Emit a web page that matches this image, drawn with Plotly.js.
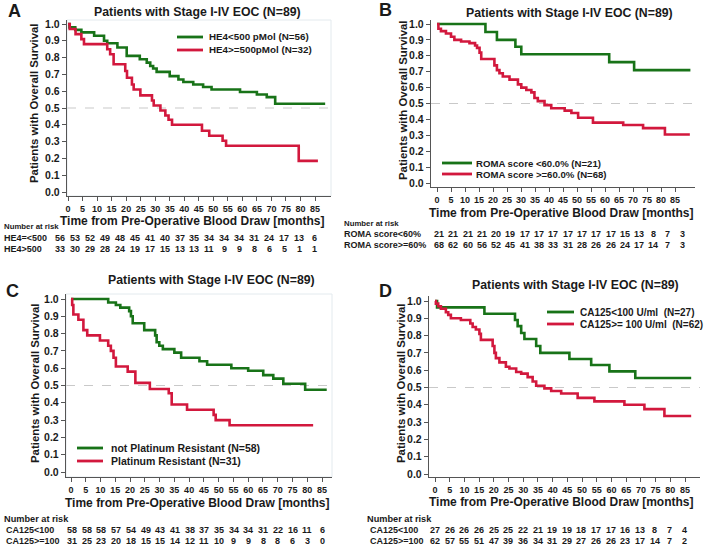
<!DOCTYPE html>
<html><head><meta charset="utf-8">
<script src="https://cdn.plot.ly/plotly-3.0.1.min.js"></script>
<style>html,body{margin:0;padding:0;background:#fff}#chart{width:704px;height:552px}</style>
</head><body><div id="chart"></div>
<script>
// ---------------- DATA ----------------
const monthTicks = [0,5,10,15,20,25,30,35,40,45,50,55,60,65,70,75,80,85];
const yTicks = [0,0.1,0.2,0.3,0.4,0.5,0.6,0.7,0.8,0.9,1.0];

// Panel A: HE4
const aGreenT = [0,0.5,2.5,4.6,9.0,12.4,13.5,17.0,20.2,24.7,27.1,28.3,29.3,30.5,35.0,38.0,39.7,43.1,46.5,49.4,59.2,65.0,68.4,71.3,88.5];
const aGreenS = [1.0,0.98,0.965,0.95,0.93,0.90,0.885,0.86,0.81,0.79,0.77,0.75,0.735,0.715,0.69,0.67,0.655,0.64,0.625,0.61,0.595,0.58,0.565,0.525,0.525];
const aRedT = [0,0.6,2.6,4.6,5.5,13.5,14.5,15.7,19.7,20.3,22.0,22.6,24.9,28.9,29.5,31.8,33.5,34.6,35.8,46.1,48.6,53.2,54.4,79.4,86.0];
const aRedS = [1.0,0.97,0.94,0.91,0.88,0.85,0.82,0.76,0.72,0.68,0.64,0.61,0.575,0.545,0.515,0.485,0.455,0.43,0.40,0.365,0.335,0.305,0.275,0.185,0.185];
const aLegend = ["HE4<500 pMol (N=56)","HE4>=500pMol (N=32)"];
const aRiskLabels = ["HE4=<500","HE4>500"];
const aRisk1 = [56,53,52,49,48,45,41,40,37,35,34,34,34,31,24,17,13,6];
const aRisk2 = [33,30,29,28,24,19,17,15,13,13,11,9,9,8,6,5,1,1];

// Panel B: ROMA
const bGreenT = [0,17.3,21.4,28.0,30.1,61.5,70.4,90.5];
const bGreenS = [1.0,0.95,0.90,0.857,0.81,0.76,0.71,0.71];
const bRedT = [0,0.5,1.4,3.2,5.0,6.2,8.6,11.6,13.6,14.3,15.2,15.8,20.5,21.4,22.3,23.5,25.9,28.9,30.1,31.9,33.7,34.8,36.0,38.4,40.8,45.6,48.0,50.4,55.7,66.5,73.6,81.4,90.3];
const bRedS = [1.0,0.97,0.955,0.94,0.92,0.90,0.89,0.88,0.865,0.85,0.82,0.78,0.74,0.71,0.69,0.67,0.65,0.62,0.60,0.585,0.57,0.535,0.515,0.49,0.47,0.455,0.44,0.41,0.38,0.365,0.345,0.305,0.305];
const bLegend = ["ROMA score <60.0% (N=21)","ROMA score >=60.0% (N=68)"];
const bRiskLabels = ["ROMA score<60%","ROMA score>=60%"];
const bRisk1 = [21,21,21,21,20,19,17,17,17,17,17,17,17,15,13,8,7,3];
const bRisk2 = [68,62,60,56,52,45,41,38,33,31,28,26,26,24,17,14,7,3];

// Panel C: Platinum resistance
const cGreenT = [0,12.6,15.2,16.7,19.7,20.3,20.9,24.8,28.5,29.0,29.9,31.1,35.0,37.3,43.5,46.1,54.3,60.0,65.1,68.5,71.9,79.3,86.6];
const cGreenS = [1.0,0.98,0.965,0.95,0.93,0.90,0.86,0.82,0.79,0.75,0.73,0.71,0.69,0.66,0.64,0.62,0.60,0.585,0.56,0.54,0.51,0.475,0.475];
const cRedT = [0,0.4,0.8,2.5,4.2,5.5,9.8,12.6,13.5,14.4,15.2,19.2,21.8,26.7,33.1,34.1,39.3,48.3,49.0,53.7,82.0];
const cRedS = [1.0,0.965,0.91,0.88,0.82,0.79,0.76,0.73,0.70,0.66,0.61,0.58,0.515,0.48,0.455,0.39,0.36,0.33,0.30,0.27,0.27];
const cLegend = ["not Platinum Resistant (N=58)","Platinum Resistant (N=31)"];
const cRiskLabels = ["CA125<100","CA125>=100"];
const cRisk1 = [58,58,58,57,54,49,43,41,38,37,35,34,34,31,22,16,11,6];
const cRisk2 = [31,25,23,20,18,15,15,14,12,11,10,9,9,8,8,6,3,0];

// Panel D: CA125
const dGreenT = [0,0.7,16.8,27.2,28.1,29.3,30.4,34.4,35.8,45.7,53.1,59.3,68.1,87.1];
const dGreenS = [1.0,0.963,0.926,0.89,0.855,0.815,0.78,0.74,0.70,0.665,0.63,0.593,0.555,0.555];
const dRedT = [0,0.3,1.1,2.0,3.7,4.5,5.4,8.8,12.0,12.8,13.9,15.1,15.6,19.6,20.2,20.7,21.9,24.1,25.3,27.6,29.3,31.5,33.2,34.4,37.2,39.5,42.9,48.5,54.2,64.4,71.2,78.0,87.1];
const dRedS = [1.0,0.985,0.97,0.955,0.935,0.92,0.90,0.89,0.87,0.85,0.835,0.81,0.775,0.74,0.70,0.67,0.645,0.62,0.61,0.59,0.58,0.56,0.535,0.51,0.495,0.48,0.465,0.44,0.42,0.40,0.375,0.335,0.335];
const dLegend = ["CA125<100 U/ml  (N=27)","CA125>= 100 U/ml  (N=62)"];
const dRiskLabels = ["CA125<100","CA125>=100"];
const dRisk1 = [27,26,26,26,25,25,22,21,19,19,18,17,17,16,13,8,7,4];
const dRisk2 = [62,57,55,51,47,39,36,34,31,29,27,26,26,23,17,14,7,2];

const panelTitle = "Patients with Stage I-IV EOC (N=89)";
const xTitle = "Time from Pre-Operative Blood Draw [months]";
const yTitle = "Patients with Overall Survival";
const riskHeader = "Number at risk";

// ---------------- STYLE / LAYOUT ----------------
const W = 704, H = 552;
const FAM = "Liberation Sans, Arial, sans-serif";
const GREEN = "#187318", RED = "#d2183d", INK = "#1a1a1a";
const px = v => v / W, py = v => 1 - v / H;

function xAx(l, r, p0, p85, anchor) {
  const s = (p85 - p0) / 85;
  return {domain:[px(l), px(r)], range:[(l - p0) / s, (r - p0) / s], anchor,
    tickmode:'array', tickvals:monthTicks, ticks:'outside', ticklen:4, tickwidth:1, tickcolor:'#555',
    showline:true, linecolor:'#555', linewidth:1.2, showgrid:false, zeroline:false, fixedrange:true,
    tickfont:{family:FAM, size:9, color:INK, weight:'bold'}};
}
function yAx(t, b, y1, y0, anchor) {
  const s = y0 - y1;
  return {domain:[py(b), py(t)], range:[(y0 - b) / s, (y0 - t) / s], anchor,
    tickmode:'array', tickvals:yTicks, tickformat:'.1f', ticks:'outside', ticklen:4, tickwidth:1, tickcolor:'#555',
    showline:true, linecolor:'#555', linewidth:1.2, showgrid:false, zeroline:false, fixedrange:true,
    tickfont:{family:FAM, size:10.5, color:INK, weight:'bold'}};
}

const panels = [
  {id:'',  gT:aGreenT, gS:aGreenS, rT:aRedT, rS:aRedS, leg:aLegend, rl:aRiskLabels, r1:aRisk1, r2:aRisk2,
   dom:[67,331,20,196], cal:[68,315,24,192],
   title:[197,12], letter:['A',15,11], xt:[192,221], yt:[34,103],
   legPos:[177,203,208,37,50,9.8], risk:{hx:3,hy:227,lx:3,y1:238,y2:249,n0:60,n1:314,hs:7.8}, box:true},
  {id:'2', gT:bGreenT, gS:bGreenS, rT:bRedT, rS:bRedS, leg:bLegend, rl:bRiskLabels, r1:bRisk1, r2:bRisk2,
   dom:[431,695,20,187], cal:[437,675,24,183],
   title:[569,13], letter:['B',385,10], xt:[561,213], yt:[403,100],
   legPos:[442,472,475,163,174,9.6], risk:{hx:343,hy:223,lx:343,y1:234,y2:245,n0:439,n1:682,hs:7.8}, box:false},
  {id:'3', gT:cGreenT, gS:cGreenS, rT:cRedT, rS:cRedS, leg:cLegend, rl:cRiskLabels, r1:cRisk1, r2:cRisk2,
   dom:[66,332,294,477], cal:[71,322,299,472],
   title:[211,280], letter:['C',12,291], xt:[197,503], yt:[35,383],
   legPos:[77,103,110,448,461,10.5], risk:{hx:3,hy:519,lx:5,y1:530,y2:541,n0:72,n1:322,hs:9.2}, box:true},
  {id:'4', gT:dGreenT, gS:dGreenS, rT:dRedT, rS:dRedS, leg:dLegend, rl:dRiskLabels, r1:dRisk1, r2:dRisk2,
   dom:[429,700,296,477], cal:[435,685,301,474],
   title:[575,285], letter:['D',385,291], xt:[561,502], yt:[401,383],
   legPos:[547,574,579,312,324,10], risk:{hx:366,hy:519,lx:369,y1:530,y2:541,n0:435,n1:684,hs:9.2}, box:false}
];

const traces = [], shapes = [], annotations = [];
const layout = {width:W, height:H, margin:{l:0,r:0,t:0,b:0}, paper_bgcolor:'#fff', plot_bgcolor:'#fff',
  showlegend:false};

function txt(text, x, y, size, anchor, extra) {
  annotations.push(Object.assign({text, x:px(x), y:py(y), xref:'paper', yref:'paper', showarrow:false,
    xanchor:anchor || 'center', yanchor:'middle', borderpad:0,
    font:{family:FAM, size, color:INK, weight:'bold'}}, extra || {}));
}

panels.forEach(p => {
  const xa = 'x' + p.id, ya = 'y' + p.id;
  layout['xaxis' + p.id] = xAx(p.dom[0], p.dom[1], p.cal[0], p.cal[1], ya);
  layout['yaxis' + p.id] = yAx(p.dom[2], p.dom[3], p.cal[2], p.cal[3], xa);
  traces.push({x:p.gT, y:p.gS, xaxis:xa, yaxis:ya, type:'scatter', mode:'lines', name:p.leg[0],
    line:{shape:'hv', color:GREEN, width:2.6}, hoverinfo:'skip'});
  traces.push({x:p.rT, y:p.rS, xaxis:xa, yaxis:ya, type:'scatter', mode:'lines', name:p.leg[1],
    line:{shape:'hv', color:RED, width:2.6}, hoverinfo:'skip'});
  // median reference line
  shapes.push({type:'line', xref:xa + ' domain', yref:ya, x0:0, x1:1, y0:0.5, y1:0.5,
    line:{color:'#c9c9c9', width:1.2, dash:'dash'}, layer:'below'});
  if (p.box) {
    shapes.push({type:'rect', xref:'paper', yref:'paper', x0:px(p.dom[0]), x1:px(p.dom[1]), y0:py(p.dom[3]), y1:py(p.dom[2]),
      line:{color:'#e3eaee', width:1}, layer:'below'});
  }
  // legend (manual, compact)
  const L = p.legPos;
  [[GREEN, L[3], p.leg[0]], [RED, L[4], p.leg[1]]].forEach(([c, yy, t]) => {
    shapes.push({type:'line', xref:'paper', yref:'paper', x0:px(L[0]), x1:px(L[1]), y0:py(yy), y1:py(yy),
      line:{color:c, width:2.8}});
    txt(t, L[2], yy, L[5], 'left');
  });
  // titles
  txt(panelTitle, p.title[0], p.title[1], 12.3);
  txt(p.letter[0], p.letter[1], p.letter[2], 18);
  txt(xTitle, p.xt[0], p.xt[1], 12);
  txt(yTitle, p.yt[0], p.yt[1], 11.4, 'center', {textangle:-90});
  // number at risk table
  const R = p.risk;
  txt(riskHeader, R.hx, R.hy, R.hs, 'left');
  txt(p.rl[0], R.lx, R.y1, 9, 'left');
  txt(p.rl[1], R.lx, R.y2, 9, 'left');
  const step = (R.n1 - R.n0) / (p.r1.length - 1);
  p.r1.forEach((v, i) => txt(String(v), R.n0 + i * step, R.y1, 9));
  p.r2.forEach((v, i) => txt(String(v), R.n0 + i * step, R.y2, 9));
});

layout.shapes = shapes;
layout.annotations = annotations;
Plotly.newPlot('chart', traces, layout, {staticPlot:true, displayModeBar:false});
</script>
</body></html>
